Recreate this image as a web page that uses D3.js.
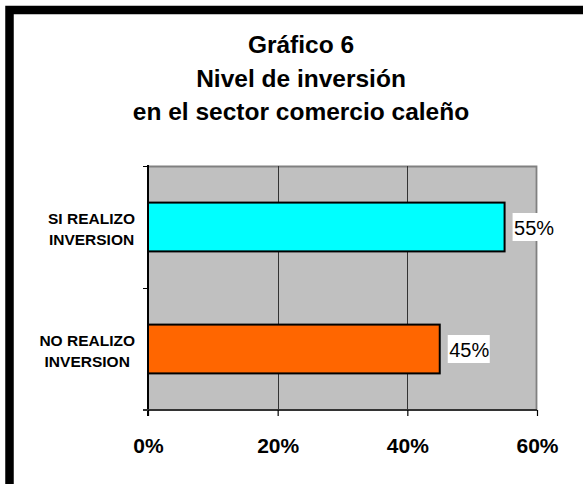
<!DOCTYPE html>
<html>
<head>
<meta charset="utf-8">
<script src="https://cdn.jsdelivr.net/npm/d3@7"></script>
<style>
  html, body { margin: 0; padding: 0; background: #fff; }
  svg { display: block; font-family: "Liberation Sans", Arial, sans-serif; }
</style>
</head>
<body>
<svg id="chart" width="583" height="484"></svg>
<script>
// Survey results: share of Cali retailers that invested
const categories = [["SI REALIZO", "INVERSION"], ["NO REALIZO", "INVERSION"]];
const values = [55, 45];
const barColors = ["#00FFFF", "#FF6600"];
const xTicks = [0, 20, 40, 60];
const titleLines = ["Gráfico 6", "Nivel de inversión", "en el sector comercio caleño"];

const svg = d3.select("#chart");

// heavy frame around the chart area
svg.append("rect")
  .attr("x", 9.5).attr("y", 10)
  .attr("width", 640).attr("height", 560)
  .attr("fill", "#fff")
  .attr("stroke", "#000")
  .attr("stroke-width", 8.5);

// title
const title = svg.append("text")
  .attr("text-anchor", "middle")
  .attr("font-weight", "bold")
  .attr("font-size", 24.5)
  .attr("fill", "#000");
titleLines.forEach((t, i) => {
  title.append("tspan").attr("x", 301).attr("y", 53 + i * 33.5).text(t);
});

const plot = { left: 148, right: 537, top: 166, bottom: 410 };

const x = d3.scaleLinear().domain([0, 60]).range([plot.left, plot.right]);
const y = d3.scaleBand()
  .domain(d3.range(categories.length))
  .range([plot.top, plot.bottom])
  .paddingInner(0.6).paddingOuter(0.3);
const yOuter = d3.scaleBand().domain(d3.range(categories.length)).range([plot.top, plot.bottom]);

// plot background
svg.append("rect")
  .attr("x", plot.left).attr("y", plot.top)
  .attr("width", plot.right - plot.left).attr("height", plot.bottom - plot.top)
  .attr("fill", "#C0C0C0");

// top and right border of the plot
svg.append("path")
  .attr("d", `M${plot.left},${plot.top + 0.5}H${plot.right - 0.5}V${plot.bottom}`)
  .attr("fill", "none").attr("stroke", "#808080").attr("stroke-width", 1.8);

// vertical gridlines
svg.append("g").selectAll("line")
  .data(xTicks.filter(t => t > 0 && t < 60))
  .join("line")
  .attr("x1", d => Math.round(x(d)) + 0.5).attr("x2", d => Math.round(x(d)) + 0.5)
  .attr("y1", plot.top).attr("y2", plot.bottom)
  .attr("stroke", "#333").attr("stroke-width", 1);

// bars
svg.append("g").selectAll("rect")
  .data(values)
  .join("rect")
  .attr("x", x(0))
  .attr("y", (d, i) => y(i))
  .attr("width", d => x(d) - x(0))
  .attr("height", y.bandwidth())
  .attr("fill", (d, i) => barColors[i])
  .attr("stroke", "#000")
  .attr("stroke-width", 2);

// value labels with white boxes
const vl = svg.append("g").selectAll("g")
  .data(values)
  .join("g")
  .attr("transform", (d, i) => `translate(${x(d) + 8},${y(i) + y.bandwidth() / 2})`);
vl.append("rect")
  .attr("x", 0).attr("y", -14)
  .attr("width", 42).attr("height", 28)
  .attr("fill", "#fff");
vl.append("text")
  .attr("x", 1.5).attr("y", 7.5)
  .attr("font-size", 20)
  .attr("fill", "#000")
  .text(d => d + "%");

// y axis line and ticks at category boundaries
const yAxis = d3.axisLeft(d3.scaleLinear().domain([0, categories.length]).range([plot.top, plot.bottom]))
  .ticks(categories.length).tickSize(5).tickFormat("");
const gy = svg.append("g").attr("transform", `translate(${plot.left},0)`).call(yAxis);
gy.select(".domain").remove();
gy.selectAll("line").attr("stroke", "#000").attr("stroke-width", 1);
svg.append("line")
  .attr("x1", plot.left).attr("x2", plot.left)
  .attr("y1", plot.top - 1).attr("y2", plot.bottom + 6)
  .attr("stroke", "#000").attr("stroke-width", 2);

// x axis
const xAxis = d3.axisBottom(x).tickValues(xTicks).tickSize(6).tickFormat(d => d + "%").tickPadding(20);
const gx = svg.append("g").attr("transform", `translate(0,${plot.bottom})`).call(xAxis);
gx.select(".domain").attr("stroke", "#333").attr("stroke-width", 2).attr("d", `M${plot.left - 5},0H${plot.right}`);
gx.selectAll(".tick line").attr("stroke", "#000").attr("stroke-width", 1.2);
gx.selectAll(".tick text")
  .attr("font-family", "'Liberation Sans', Arial, sans-serif")
  .attr("font-size", 21).attr("font-weight", "bold").attr("fill", "#000")
  .attr("dy", null).attr("y", 43);

// category labels: lines centred on each other, block right-aligned to x=135
categories.forEach((lines, i) => {
  const cy = yOuter(i) + yOuter.bandwidth() / 2;
  const t = svg.append("text")
    .attr("font-size", 15.5).attr("font-weight", "bold")
    .attr("text-anchor", "middle").attr("fill", "#000");
  const spans = lines.map((s, j) => t.append("tspan").attr("y", cy - 3 + j * 21).text(s));
  const maxW = d3.max(spans, s => s.node().getComputedTextLength());
  spans.forEach(s => s.attr("x", 135 - maxW / 2));
});
</script>
</body>
</html>
